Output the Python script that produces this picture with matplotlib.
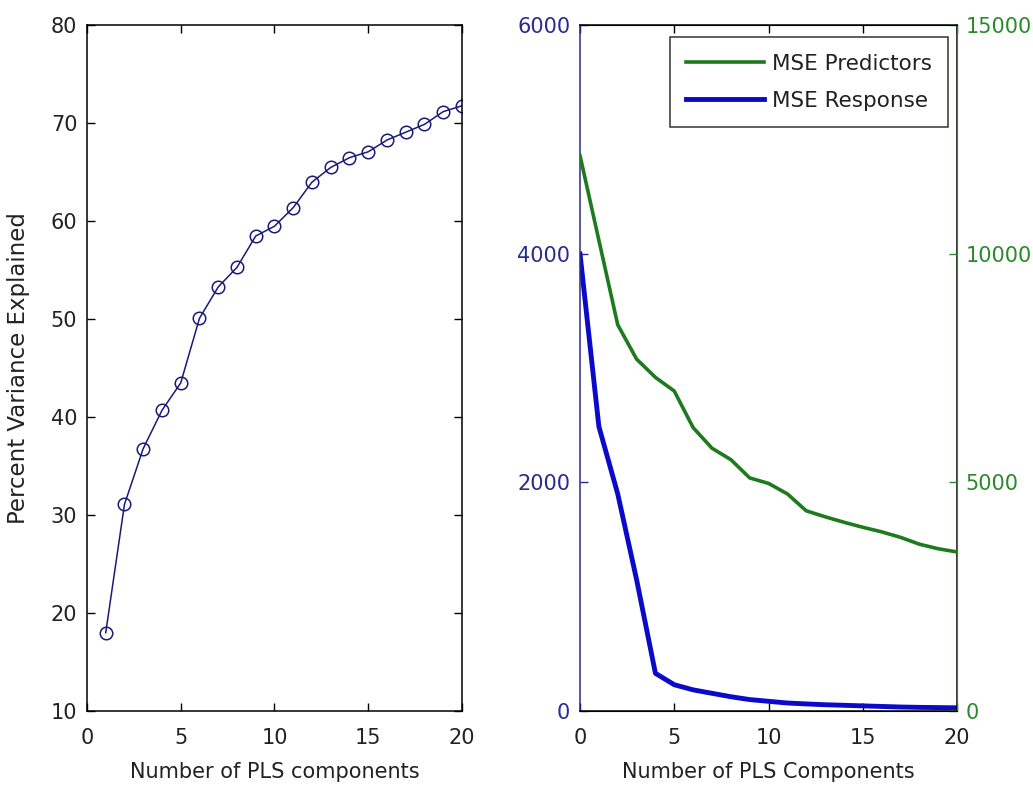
import numpy as np
import matplotlib
matplotlib.use("Agg")
import matplotlib.pyplot as plt

# Left panel: percent variance explained
n_comp = list(range(1, 21))
pct_var = [18.0, 31.1, 36.8, 40.7, 43.5, 50.1, 53.3, 55.3, 58.5, 59.5,
           61.4, 64.0, 65.5, 66.5, 67.1, 68.3, 69.1, 69.9, 71.2, 71.8]

# Right panel: MSE vs number of PLS components
n_comp_mse = list(range(0, 21))
mse_response = [4000, 2490, 1900, 1150, 330, 230, 185, 155, 125, 100, 85,
                70, 62, 55, 50, 45, 40, 35, 32, 30, 28]
mse_predictors = [12150, 10300, 8450, 7700, 7300, 7000, 6200, 5750, 5500, 5100,
                  4980, 4750, 4380, 4250, 4130, 4020, 3920, 3800, 3650, 3550, 3480]

plt.rcParams['font.family'] = ['DejaVu Sans']
plt.rcParams['font.size'] = 15

fig = plt.figure(figsize=(10.33, 7.88), dpi=100)

navy = '#1a1a78'
blue = '#0a0ac8'
green = '#1d7a1d'
blue_lbl = '#2a2a90'
green_lbl = '#2a8a2a'
txt = '#222222'

TICK_FS = 15
LABEL_FS = 15

# Left axes
ax1 = fig.add_axes([0.0842, 0.0977, 0.363, 0.870])
ax1.plot(n_comp, pct_var, '-o', color=navy, markerfacecolor='none',
         markeredgecolor=navy, markersize=9, linewidth=1.1, markeredgewidth=1.1)
ax1.set_xlim(0, 20)
ax1.set_ylim(10, 80)
ax1.set_xticks([0, 5, 10, 15, 20])
ax1.set_yticks([10, 20, 30, 40, 50, 60, 70, 80])
ax1.tick_params(direction='in', length=6, width=1, top=True, right=True,
                labelsize=TICK_FS, labelcolor=txt)
ax1.tick_params(axis='x', pad=12)
ax1.tick_params(axis='y', pad=7)
ax1.set_xlabel('Number of PLS components', fontsize=LABEL_FS, labelpad=10, color=txt)
ax1.set_ylabel('Percent Variance Explained', fontsize=16.5, labelpad=15, color=txt)
for s in ax1.spines.values():
    s.set_linewidth(1.1)

# Right axes
ax2 = fig.add_axes([0.5615, 0.0977, 0.365, 0.870])
l1, = ax2.plot(n_comp_mse, mse_response, '-', color=blue, linewidth=3.5)
ax2.set_xlim(0, 20)
ax2.set_ylim(0, 6000)
ax2.set_xticks([0, 5, 10, 15, 20])
ax2.set_yticks([0, 2000, 4000, 6000])
ax2.tick_params(direction='in', length=6, width=1, top=True, right=False,
                labelsize=TICK_FS)
ax2.tick_params(axis='x', pad=12, labelcolor=txt)
ax2.tick_params(axis='y', colors=blue_lbl, pad=7)
ax2.spines['left'].set_color(blue_lbl)
for s in ax2.spines.values():
    s.set_linewidth(1.1)
ax2.set_xlabel('Number of PLS Components', fontsize=LABEL_FS, labelpad=10, color=txt)

ax3 = ax2.twinx()
l2, = ax3.plot(n_comp_mse, mse_predictors, '-', color=green, linewidth=2.6)
ax3.set_ylim(0, 15000)
ax3.set_yticks([0, 5000, 10000, 15000])
ax3.tick_params(axis='y', direction='in', length=6, width=1, colors=green_lbl,
                labelsize=TICK_FS, pad=6)
ax3.spines['right'].set_color(green_lbl)
ax3.spines['left'].set_visible(False)

leg = ax3.legend([l2, l1], ['MSE Predictors', 'MSE Response'],
                 loc='upper right', fontsize=15.5, frameon=True, fancybox=False,
                 edgecolor='black', handlelength=3.6, borderpad=0.75,
                 labelspacing=0.8, handletextpad=0.37, borderaxespad=0,
                 bbox_to_anchor=(0.976, 0.9825))
leg.get_frame().set_linewidth(1.1)
for t in leg.get_texts():
    t.set_color(txt)

fig.savefig('out.png', dpi=100)
